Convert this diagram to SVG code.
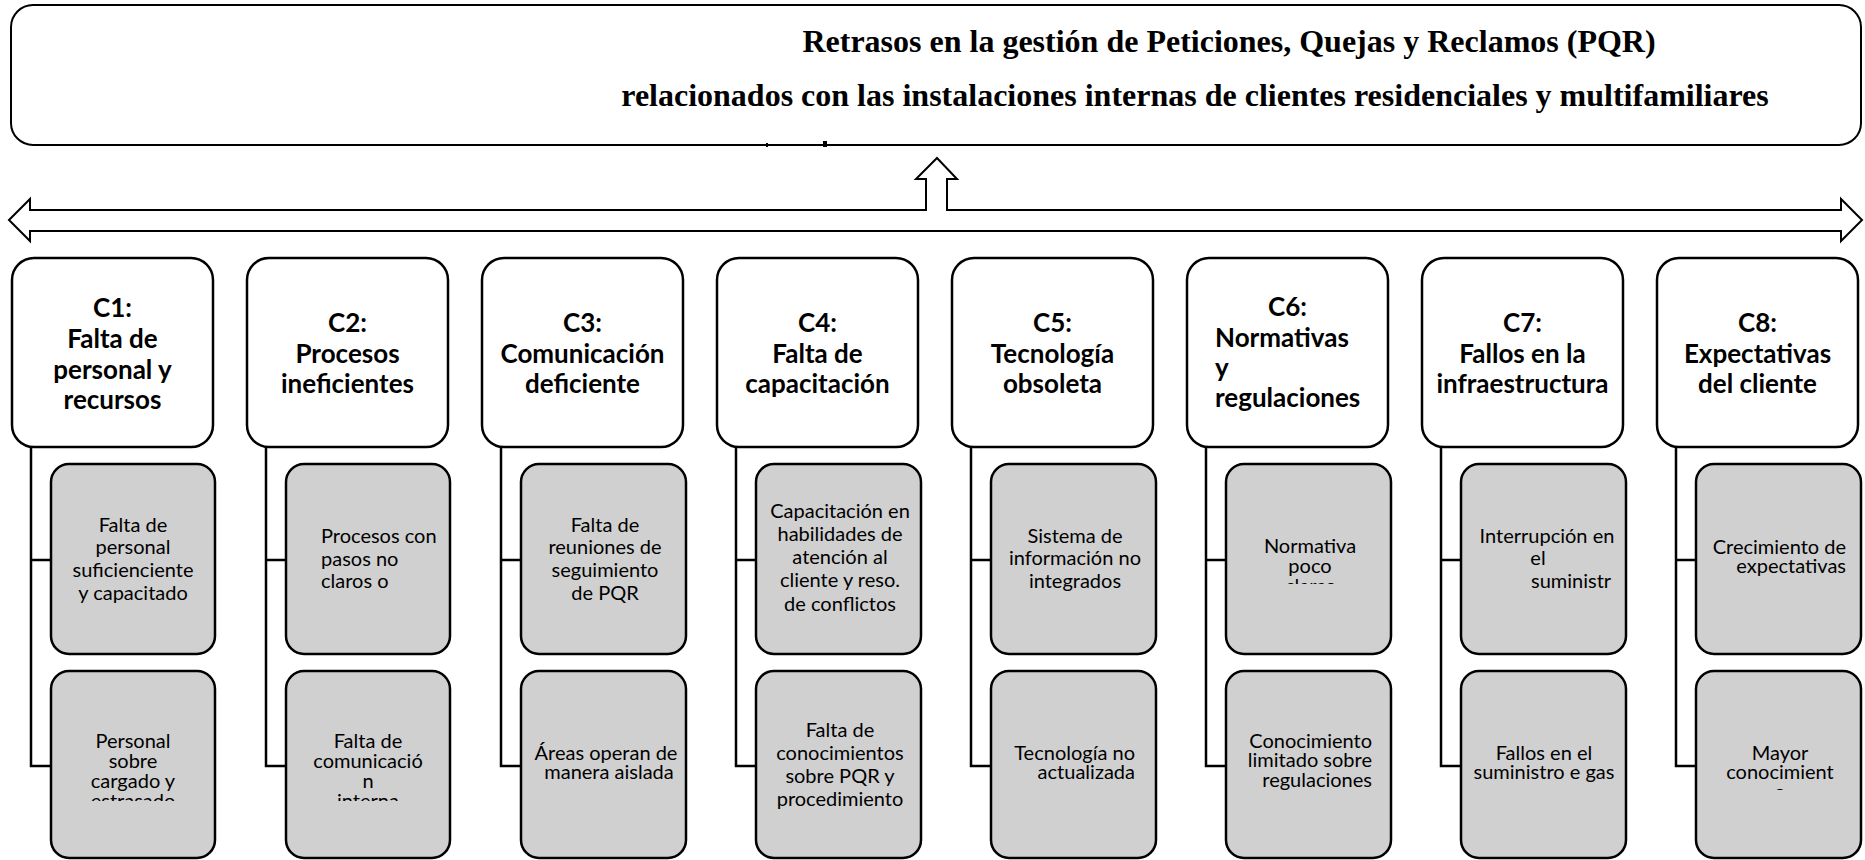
<svg xmlns="http://www.w3.org/2000/svg" width="1865" height="860" viewBox="0 0 1865 860">
<defs>
<style>
.top{fill:#fff;stroke:#000;stroke-width:2}
.arrow{fill:#fff;stroke:#000;stroke-width:2;stroke-linejoin:miter}
.cbox{fill:#fff;stroke:#000;stroke-width:2.5}
.gbox{fill:#d0d0d0;stroke:#000;stroke-width:2.5}
.conn{fill:none;stroke:#000;stroke-width:2.5}
.title{font-family:"Liberation Serif","Times New Roman",serif;font-weight:bold;font-size:32px;fill:#000;text-anchor:middle}
.hd{font-family:Lato,"Liberation Sans",sans-serif;font-weight:bold;font-size:26px;fill:#000;text-anchor:middle}
.hl{text-anchor:start}
.gt{font-family:Lato,"Liberation Sans",sans-serif;font-size:20px;fill:#000;text-anchor:middle}
.st{text-anchor:start}
.en{text-anchor:end}
</style>
<clipPath id="clipC1g2"><rect x="51" y="671" width="164" height="130"/></clipPath>
<clipPath id="clipC2g2"><rect x="286" y="671" width="164" height="130"/></clipPath>
<clipPath id="clipC6g1"><rect x="1226" y="464" width="164" height="120"/></clipPath>
<clipPath id="clipC8g2"><rect x="1696" y="671" width="164" height="119"/></clipPath>
</defs>

<g id="effect">
<rect class="top" x="11" y="5" width="1850" height="140" rx="22" ry="22"/>
<text class="title" x="1229" y="52">Retrasos en la gestión de Peticiones, Quejas y Reclamos (PQR)</text>
<text class="title" x="1195" y="106">relacionados con las instalaciones internas de clientes residenciales y multifamiliares</text>
<rect x="766" y="143" width="2" height="4" fill="#000"/>
<rect x="823" y="141" width="4" height="6" fill="#000"/>
</g>

<g id="connectors">
<path class="arrow" d="M9,220 L30,199 L30,210 L926,210 L926,179 L916,179 L937,158 L957,179 L947,179 L947,210 L1841,210 L1841,199 L1862,220 L1841,241 L1841,231 L30,231 L30,241 Z"/>
<path class="conn" d="M31,447 V766 H51 M31,560 H51"/>
<path class="conn" d="M266,447 V766 H286 M266,560 H286"/>
<path class="conn" d="M501,447 V766 H521 M501,560 H521"/>
<path class="conn" d="M736,447 V766 H756 M736,560 H756"/>
<path class="conn" d="M971,447 V766 H991 M971,560 H991"/>
<path class="conn" d="M1206,447 V766 H1226 M1206,560 H1226"/>
<path class="conn" d="M1441,447 V766 H1461 M1441,560 H1461"/>
<path class="conn" d="M1676,447 V766 H1696 M1676,560 H1696"/>
</g>

<g id="C1">
<rect class="cbox" x="12" y="258" width="201" height="189" rx="22"/>
<text class="hd" x="112.5" y="317">C1:</text>
<text class="hd" x="112.5" y="348">Falta de</text>
<text class="hd" x="112.5" y="379">personal y</text>
<text class="hd" x="112.5" y="409">recursos</text>
</g>
<g id="C1a">
<rect class="gbox" x="51" y="464" width="164" height="190" rx="18"/>
<text class="gt" x="133" y="532">Falta de</text>
<text class="gt" x="133" y="554">personal</text>
<text class="gt" x="133" y="577">suficienciente</text>
<text class="gt" x="133" y="600">y capacitado</text>
</g>
<g id="C1b">
<rect class="gbox" x="51" y="671" width="164" height="187" rx="18"/>
<g clip-path="url(#clipC1g2)">
<text class="gt" x="133" y="748">Personal</text>
<text class="gt" x="133" y="768">sobre</text>
<text class="gt" x="133" y="788">cargado y</text>
<text class="gt" x="133" y="808">estrasado</text>
</g>
</g>

<g id="C2">
<rect class="cbox" x="247" y="258" width="201" height="189" rx="22"/>
<text class="hd" x="347.5" y="332">C2:</text>
<text class="hd" x="347.5" y="363">Procesos</text>
<text class="hd" x="347.5" y="393">ineficientes</text>
</g>
<g id="C2a">
<rect class="gbox" x="286" y="464" width="164" height="190" rx="18"/>
<text class="gt st" x="321" y="543">Procesos con</text>
<text class="gt st" x="321" y="566">pasos no</text>
<text class="gt st" x="321" y="588">claros o</text>
</g>
<g id="C2b">
<rect class="gbox" x="286" y="671" width="164" height="187" rx="18"/>
<g clip-path="url(#clipC2g2)">
<text class="gt" x="368" y="748">Falta de</text>
<text class="gt" x="368" y="768">comunicació</text>
<text class="gt" x="368" y="788">n</text>
<text class="gt" x="368" y="808">interna</text>
</g>
</g>

<g id="C3">
<rect class="cbox" x="482" y="258" width="201" height="189" rx="22"/>
<text class="hd" x="582.5" y="332">C3:</text>
<text class="hd" x="582.5" y="363">Comunicación</text>
<text class="hd" x="582.5" y="393">deficiente</text>
</g>
<g id="C3a">
<rect class="gbox" x="521" y="464" width="165" height="190" rx="18"/>
<text class="gt" x="605" y="532">Falta de</text>
<text class="gt" x="605" y="554">reuniones de</text>
<text class="gt" x="605" y="577">seguimiento</text>
<text class="gt" x="605" y="600">de PQR</text>
</g>
<g id="C3b">
<rect class="gbox" x="521" y="671" width="165" height="187" rx="18"/>
<text class="gt" x="606" y="760">Áreas operan de</text>
<text class="gt" x="609" y="779">manera aislada</text>
</g>

<g id="C4">
<rect class="cbox" x="717" y="258" width="201" height="189" rx="22"/>
<text class="hd" x="817.5" y="332">C4:</text>
<text class="hd" x="817.5" y="363">Falta de</text>
<text class="hd" x="817.5" y="393">capacitación</text>
</g>
<g id="C4a">
<rect class="gbox" x="756" y="464" width="165" height="190" rx="18"/>
<text class="gt" x="840" y="518">Capacitación en</text>
<text class="gt" x="840" y="541">habilidades de</text>
<text class="gt" x="840" y="564">atención al</text>
<text class="gt" x="840" y="587">cliente y reso.</text>
<text class="gt" x="840" y="611">de conflictos</text>
</g>
<g id="C4b">
<rect class="gbox" x="756" y="671" width="165" height="187" rx="18"/>
<text class="gt" x="840" y="737">Falta de</text>
<text class="gt" x="840" y="760">conocimientos</text>
<text class="gt" x="840" y="783">sobre PQR y</text>
<text class="gt" x="840" y="806">procedimiento</text>
</g>

<g id="C5">
<rect class="cbox" x="952" y="258" width="201" height="189" rx="22"/>
<text class="hd" x="1052.5" y="332">C5:</text>
<text class="hd" x="1052.5" y="363">Tecnología</text>
<text class="hd" x="1052.5" y="393">obsoleta</text>
</g>
<g id="C5a">
<rect class="gbox" x="991" y="464" width="165" height="190" rx="18"/>
<text class="gt" x="1075" y="543">Sistema de</text>
<text class="gt" x="1075" y="565">información no</text>
<text class="gt" x="1075" y="588">integrados</text>
</g>
<g id="C5b">
<rect class="gbox" x="991" y="671" width="165" height="187" rx="18"/>
<text class="gt en" x="1135" y="760">Tecnología no</text>
<text class="gt en" x="1135" y="779">actualizada</text>
</g>

<g id="C6">
<rect class="cbox" x="1187" y="258" width="201" height="189" rx="22"/>
<text class="hd" x="1287.5" y="316">C6:</text>
<text class="hd hl" x="1215" y="347">Normativas</text>
<text class="hd hl" x="1215" y="377">y</text>
<text class="hd hl" x="1215" y="407">regulaciones</text>
</g>
<g id="C6a">
<rect class="gbox" x="1226" y="464" width="165" height="190" rx="18"/>
<g clip-path="url(#clipC6g1)">
<text class="gt" x="1310" y="553">Normativa</text>
<text class="gt" x="1310" y="573">poco</text>
<text class="gt" x="1310" y="593">claras</text>
</g>
</g>
<g id="C6b">
<rect class="gbox" x="1226" y="671" width="165" height="187" rx="18"/>
<text class="gt en" x="1372" y="748">Conocimiento</text>
<text class="gt en" x="1372" y="767">limitado sobre</text>
<text class="gt en" x="1372" y="787">regulaciones</text>
</g>

<g id="C7">
<rect class="cbox" x="1422" y="258" width="201" height="189" rx="22"/>
<text class="hd" x="1522.5" y="332">C7:</text>
<text class="hd" x="1522.5" y="363">Fallos en la</text>
<text class="hd" x="1522.5" y="393">infraestructura</text>
</g>
<g id="C7a">
<rect class="gbox" x="1461" y="464" width="165" height="190" rx="18"/>
<text class="gt" x="1547" y="543">Interrupción en</text>
<text class="gt" x="1538" y="565">el</text>
<text class="gt st" x="1531" y="588">suministr</text>
</g>
<g id="C7b">
<rect class="gbox" x="1461" y="671" width="165" height="187" rx="18"/>
<text class="gt" x="1544" y="760">Fallos en el</text>
<text class="gt" x="1544" y="779">suministro e gas</text>
</g>

<g id="C8">
<rect class="cbox" x="1657" y="258" width="201" height="189" rx="22"/>
<text class="hd" x="1757.5" y="332">C8:</text>
<text class="hd" x="1757.5" y="363">Expectativas</text>
<text class="hd" x="1757.5" y="393">del cliente</text>
</g>
<g id="C8a">
<rect class="gbox" x="1696" y="464" width="165" height="190" rx="18"/>
<text class="gt en" x="1846" y="554">Crecimiento de</text>
<text class="gt en" x="1846" y="573">expectativas</text>
</g>
<g id="C8b">
<rect class="gbox" x="1696" y="671" width="165" height="187" rx="18"/>
<g clip-path="url(#clipC8g2)">
<text class="gt" x="1780" y="760">Mayor</text>
<text class="gt" x="1780" y="779">conocimient</text>
<text class="gt" x="1780" y="799">o</text>
</g>
</g>
</svg>
